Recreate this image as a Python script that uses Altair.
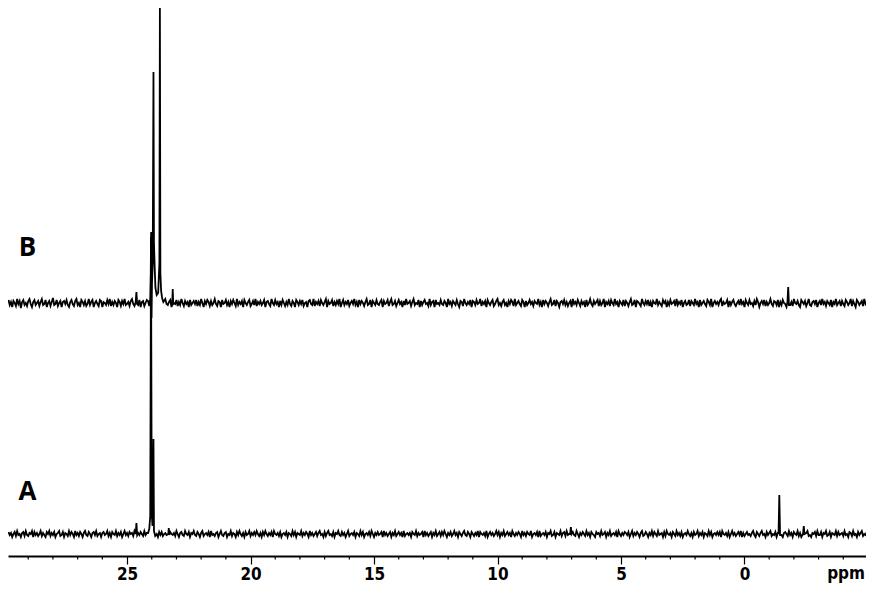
import altair as alt
import pandas as pd

# sampling grid of the baseline (ppm), 0.05 ppm step
grid_start = 29.8
grid_step = 0.05
grid_n = 700

# baseline noise (reference-pixel intensity units)
noise_B = [
    3,-2,1,-4,2,0,-3,4,-1,2,-5,1,3,-2,0,-3,2,4,-1,-4,1,3,-2,0,2,
    -3,1,4,-2,-1,3,-4,0,2,-3,1,5,-2,-1,3,-3,0,2,-4,1,2,-1,3,-2,-4,
    1,3,-1,-3,2,4,-2,0,-4,3,1,-2,2,-3,-1,4,-2,1,3,-4,0,2,-1,-3,3,
    2,-4,1,0,-2,3,-1,4,-3,1,-2,2,0,-4,3,1,-3,2,-1,4,-2,-1,1,-3,2,
    4,-1,-3,2,0,-2,3,-4,1,2,-3,0,3,-1,-4,2,1,-2,3,-3,0,4,-2,1,-1,
    -3,2,4,-1,-2,1,3,-4,2,0,-1,3,-3,1,-2,4,0,-3,2,-1,1,-4,3,-2,0,
    2,-1,3,-3,1,-2,4,0,-4,2,-1,3,1,-3,2,-2,0,4,-1,-3,2,1,-4,3,-1,
    0,3,-2,1,-4,2,-1,3,0,-3,4,-2,1,-1,2,-4,3,0,-2,1,3,-3,-1,2,-2,
    4,-3,1,-1,2,-2,0,3,-4,1,2,-1,-3,4,0,-2,3,-1,1,-4,2,-2,3,0,-3,
    1,-2,4,-1,-3,2,0,-4,3,1,-2,2,-1,3,-3,0,1,-4,2,3,-1,-2,4,-3,1,
    -1,2,-3,3,0,-2,1,4,-4,2,-1,0,3,-3,1,-2,2,-1,4,-4,0,3,-2,1,-1,
    3,-3,0,2,-1,4,-2,1,-4,3,-1,2,0,-3,1,4,-2,-1,3,-4,2,0,-2,3,-1,
    -2,1,3,-4,2,-1,0,3,-3,1,4,-2,-1,2,-3,0,3,-1,1,-4,2,-2,4,-1,0,
    2,-3,1,4,-2,0,-1,3,-4,2,-2,1,3,-1,0,-3,4,-2,1,2,-4,3,-1,0,-2,
    3,-1,-2,2,0,-4,4,-1,1,-3,2,0,-2,3,-1,-4,2,1,-3,4,0,-2,1,-1,3,
    -4,2,1,-2,3,-1,0,4,-3,1,-1,2,-4,3,0,-2,1,3,-3,-1,2,4,-2,0,-3,
    1,3,-2,0,-4,2,-1,3,1,-3,4,-2,0,2,-1,-3,3,1,-4,2,-2,0,3,-1,1,
    -3,2,0,-1,4,-2,1,-4,3,-1,2,0,-3,1,4,-2,-1,3,-3,2,0,-4,1,2,-1,
    3,-2,1,-3,0,2,-4,4,-1,1,-2,3,0,-3,2,-1,1,-4,3,-2,0,4,-1,-3,2,
    -1,1,3,-3,2,-2,0,4,-4,1,-1,2,-3,3,0,-2,4,-1,1,-4,2,0,-2,3,-3,
    2,0,-3,1,4,-2,-1,3,-4,2,1,-1,-3,4,0,-2,2,-1,3,-3,1,-4,2,0,-1,
    4,-2,1,-1,-3,3,0,2,-4,1,-2,3,-1,0,2,-3,4,-2,1,-1,3,-4,0,2,-2,
    -1,3,-3,2,0,-2,4,-1,1,-4,3,-2,0,2,-1,-3,3,1,-2,4,-4,0,2,-1,1,
    -2,2,4,-3,1,-1,0,3,-4,2,-2,1,3,-1,-3,0,2,-2,4,-1,1,-4,3,0,-2,
    3,-1,0,-3,2,-2,4,1,-4,0,2,-1,3,-3,1,-2,0,4,-1,-3,2,1,-2,3,-4,
    1,-2,3,0,-1,-4,2,3,-2,1,-3,4,0,-1,2,-2,-4,3,1,-1,2,-3,0,4,-2,
    -3,1,2,-1,3,-4,0,2,-2,4,-1,1,-3,2,0,-2,3,-4,1,-1,4,-2,0,2,-3,
    2,-1,-3,3,1,-2,0,4,-3,2,-1,-4,3,1,-2,0,2,-3,4,-1,1,-2,3,-4,0,
]
noise_A = [
    2,-1,1,-3,0,2,-2,3,-1,0,-3,1,2,-2,3,-1,-2,1,0,3,-3,2,-1,1,-2,
    0,3,-2,1,-1,-3,2,0,3,-2,1,-1,2,-3,0,1,3,-2,-1,2,-3,1,0,-2,3,
    -1,2,0,-3,3,-1,1,-2,2,0,-3,1,3,-1,-2,2,0,-3,1,2,-1,3,-2,0,1,
    -3,1,2,-1,0,3,-2,1,-3,2,0,-1,3,-2,1,-1,2,-3,0,3,-1,1,-2,2,0,
    1,-2,3,0,-3,1,-1,2,0,-2,3,-1,1,-3,2,0,-1,3,-2,1,0,-3,2,-1,2,
    -2,0,1,-1,3,-3,2,0,-1,1,-2,3,0,-3,1,2,-1,-2,3,0,-1,2,-3,1,0,
    3,-1,-2,2,0,-3,1,3,-2,0,1,-1,2,-3,3,-1,0,-2,1,2,-3,0,3,-1,-2,
    1,2,-3,0,-1,3,-2,1,0,-3,2,-1,3,0,-2,1,-3,2,-1,0,3,-2,1,-1,2,
    -1,3,0,-2,1,-3,2,-1,3,0,-2,1,-1,2,-3,3,0,-1,1,-2,2,-3,0,1,-1,
    2,-3,1,0,-2,3,-1,2,-3,1,0,-1,3,-2,1,-1,2,0,-3,3,-1,1,-2,0,2,
    -2,1,3,-1,0,-3,2,-2,1,3,-1,0,-2,2,-3,1,0,3,-1,-2,2,-1,1,-3,0,
    3,-2,0,1,-1,2,-3,1,0,-2,3,-1,2,-3,0,1,-1,2,-2,3,0,-3,1,-1,2,
    -1,0,2,-3,3,-1,1,-2,0,2,-3,1,-1,3,-2,0,2,-1,1,-3,3,-2,0,1,-1,
    1,-3,2,0,-1,3,-2,1,-1,0,2,-3,3,-1,1,-2,0,2,-3,1,-1,3,-2,0,2,
    -2,2,-1,3,0,-3,1,-1,2,-2,0,3,-1,1,-3,2,0,-2,1,3,-1,-2,2,0,-3,
    2,0,-2,1,-1,3,-3,2,0,-1,1,-2,3,-3,0,2,-1,1,-2,0,3,-1,2,-3,1,
    -1,3,-2,0,2,-1,1,-3,3,0,-2,1,-1,2,0,-3,3,-1,1,-2,2,0,-1,3,-3,
    0,1,-1,2,-3,3,-2,0,1,-1,2,-3,1,0,3,-2,-1,2,-3,1,0,-1,3,-2,1,
    2,-2,3,-1,0,-3,1,2,-1,-2,3,0,-3,1,-1,2,0,-2,3,-1,1,-3,2,0,-1,
    -3,2,0,1,-2,3,-1,0,2,-3,1,-1,3,-2,0,1,-1,2,-3,3,0,-2,1,-1,2,
    1,-1,2,-3,0,3,-2,1,-1,2,0,-3,1,3,-2,-1,2,0,-3,1,-1,3,-2,2,0,
    -2,3,-1,0,1,-3,2,-2,3,0,-1,1,-3,2,0,-2,3,-1,1,-2,2,-3,0,1,-1,
    3,0,-2,1,-3,2,-1,0,3,-2,1,-1,2,-3,1,0,-2,3,-1,2,-3,0,1,-1,2,
    -1,2,-3,3,0,-1,1,-2,2,-3,0,3,-1,1,-2,0,2,-1,3,-3,1,-2,0,2,-1,
    0,-2,1,3,-1,-3,2,0,-2,1,3,-1,0,-3,2,-1,1,3,-2,0,-1,2,-3,1,0,
    2,-1,-3,1,2,0,-2,3,-1,1,-3,2,0,-1,3,-2,1,-3,2,0,-1,1,3,-2,-1,
    -3,1,0,2,-2,3,-1,-1,2,-3,1,0,3,-2,-1,2,-3,1,0,-1,3,-2,2,-1,0,
    1,-2,3,-1,0,-3,2,1,-2,3,-1,0,-3,2,-1,1,3,-2,0,-1,2,-3,1,0,2,
]

# signal points (ppm, intensity above baseline)
peaks_B_ppm = [24.65, 24.62, 24.59, 24.15, 24.10, 24.06, 24.04, 24.025, 24.01, 23.99, 23.96,
               23.93, 23.91, 23.88, 23.85, 23.80, 23.74, 23.69, 23.67, 23.65, 23.62, 23.58,
               23.53, 23.17, 23.15, 23.13, -1.74, -1.77, -1.80]
peaks_B_int = [1, 11, -1, 2, -3, 4, 30, 71, -15, 20, 40,
               231, 60, 35, 15, 8, 10, 40, 295, 30, 12, 5,
               1, 0, 14, -1, 1, 16, -2]

peaks_A_ppm = [24.65, 24.62, 24.59, 24.15, 24.10, 24.06, 24.03, 24.00, 23.97, 23.93, 23.91,
               23.86, 23.33, 23.31, 23.29, 7.06, 7.03, 7.00, -1.38, -1.41, -1.44,
               -2.37, -2.40, -2.43]
peaks_A_int = [0, 11, -1, 1, 5, 18, 297, 20, 8, 95, 3,
               -2, 0, 6, -1, 0, 7, 0, 1, 39, -1,
               0, 8, 0]

offset_A = 22
offset_B = 253

# labels
trace_names = ["B", "A"]
trace_label_ppm = [29.03, 29.03]
trace_label_v = [308, 64]
unit_label = "ppm"
unit_label_ppm = -4.88
unit_label_v = -23

x_min, x_max = -4.92, 29.82
major_ticks = [25, 20, 15, 10, 5, 0]
minor_ticks = [t for t in range(29, -5, -1) if t not in major_ticks]


def build(noise, pk_ppm, pk_int, offset, name):
    grid = [round(grid_start - grid_step * i, 3) for i in range(grid_n)]
    pts = [(p, n) for p, n in zip(grid, noise)
           if all(abs(p - q) > 0.025 for q in pk_ppm)]
    pts += list(zip(pk_ppm, pk_int))
    pts.sort(key=lambda t: -t[0])
    return pd.DataFrame({
        "ppm": [p for p, _ in pts],
        "v": [offset + i for _, i in pts],
        "trace": name,
        "order": list(range(len(pts))),
    })


df = pd.concat([build(noise_B, peaks_B_ppm, peaks_B_int, offset_B, "B"),
                build(noise_A, peaks_A_ppm, peaks_A_int, offset_A, "A")],
               ignore_index=True)

xscale = alt.Scale(domain=[x_min, x_max], reverse=True, nice=False, zero=False)
yscale = alt.Scale(domain=[0, 548], nice=False, zero=False)

label_font = "DejaVu Sans Condensed"

lines = alt.Chart(df).mark_line(color="black", strokeWidth=1.8, clip=True).encode(
    x=alt.X("ppm:Q", scale=xscale, title=None,
            axis=alt.Axis(values=major_ticks, format="d",
                          tickSize=8, tickColor="black", tickWidth=1.2,
                          domainColor="black", domainWidth=2,
                          labelFont=label_font,
                          labelFontWeight="bold", labelFontSize=17, labelColor="black",
                          labelPadding=2, labelFlush=False, labelOverlap=False,
                          grid=False)),
    y=alt.Y("v:Q", scale=yscale, axis=None),
    detail="trace:N",
    order="order:Q",
)

minor_df = pd.DataFrame({"ppm": minor_ticks})
minor = alt.Chart(minor_df).mark_rule(color="black", strokeWidth=1.2).encode(
    x=alt.X("ppm:Q", scale=xscale),
    y=alt.datum(0, scale=yscale),
    y2=alt.datum(-3.5),
)

lab_df = pd.DataFrame({"name": trace_names, "ppm": trace_label_ppm, "v": trace_label_v})
labels = alt.Chart(lab_df).mark_text(
    font="Open Sans", fontWeight="bold", fontSize=26, color="black",
    align="center", baseline="middle"
).encode(x=alt.X("ppm:Q", scale=xscale), y=alt.Y("v:Q", scale=yscale), text="name:N")

unit_df = pd.DataFrame({"name": [unit_label], "ppm": [unit_label_ppm], "v": [unit_label_v]})
unit = alt.Chart(unit_df).mark_text(
    font=label_font, fontWeight="bold",
    fontSize=17, color="black", align="right", baseline="alphabetic"
).encode(x=alt.X("ppm:Q", scale=xscale), y=alt.Y("v:Q", scale=yscale), text="name:N")

chart = alt.layer(lines, minor, labels, unit).properties(
    width=858, height=548,
    padding={"left": 0, "top": 0, "right": 0, "bottom": 29},
    autosize=alt.AutoSizeParams(type="none"),
).configure_view(stroke=None)

chart.save("out.html", embed_options={"renderer": "svg", "actions": False})
